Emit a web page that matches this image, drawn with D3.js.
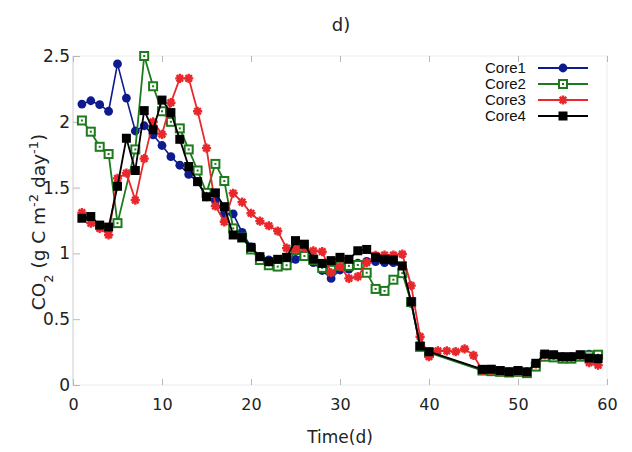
<!DOCTYPE html>
<html>
<head>
<meta charset="UTF-8">
<script src="https://d3js.org/d3.v7.min.js"></script>
<style>
  body { margin: 0; background: #fff; }
  text { font-family: "DejaVu Sans", Verdana, sans-serif; fill: #222; }
  .legend text { font-family: "Liberation Sans", Arial, sans-serif; fill: #111; }
  .axis path { display: none; }
  .axis line { stroke: #b8b8b8; }
</style>
</head>
<body>
<svg id="chart" width="632" height="452"></svg>
<script>
// days of incubation
const days = [1,2,3,4,5,6,7,8,9,10,11,12,13,14,15,16,17,18,19,20,
              21,22,23,24,25,26,27,28,29,30,31,32,33,34,35,36,37,38,39,40,
              41,42,43,44,45,46,47,48,49,50,51,52,53,54,55,56,57,58,59];

// CO2 flux (g C m-2 day-1), null = no sample
const core1 = [2.135,2.16,2.13,2.08,2.44,2.18,1.93,1.97,1.90,1.82,
               1.735,1.67,1.60,1.545,1.43,1.40,1.30,1.30,1.16,1.05,
               0.975,0.95,0.93,0.905,0.955,1.0,0.93,0.87,0.81,0.874,
               0.88,0.925,0.94,0.937,0.93,0.93,0.89,0.62,0.29,0.25,
               null,null,null,null,null,0.115,0.11,0.105,0.10,0.105,
               0.10,0.16,0.22,0.22,0.215,0.215,0.225,0.235,0.21];
const core2 = [2.01,1.925,1.81,1.755,1.23,null,1.79,2.5,2.27,2.08,
               2.0,1.95,1.79,1.63,1.46,1.68,1.55,1.19,1.12,1.03,
               0.95,0.91,0.90,0.91,1.026,0.98,0.95,0.89,0.875,0.905,
               0.905,0.912,0.853,0.73,0.715,0.80,0.85,0.63,0.29,0.245,
               null,null,null,null,null,0.11,0.105,0.10,0.095,0.10,
               0.09,0.14,0.215,0.21,0.20,0.20,0.215,0.225,0.23];
const core3 = [1.31,1.23,1.19,1.14,1.57,1.61,1.405,1.72,2.0,1.905,
               2.145,2.33,2.33,2.08,1.80,1.36,1.24,1.457,1.39,1.305,
               1.245,1.21,1.17,1.04,1.03,1.04,1.02,1.013,0.853,0.90,
               0.81,0.823,0.93,0.985,0.988,0.988,0.995,0.755,0.367,0.215,
               0.26,0.26,0.253,0.275,0.225,0.11,0.11,0.10,0.10,0.10,
               0.10,0.16,0.23,0.225,0.21,0.21,0.225,0.17,0.15];
const core4 = [1.267,1.28,1.215,1.20,1.51,1.875,1.63,2.085,1.94,2.165,
               2.07,1.867,1.66,1.545,1.43,1.46,1.355,1.14,1.12,1.046,
               0.975,0.937,0.955,0.97,1.097,1.07,0.957,0.924,0.945,0.97,
               0.955,1.02,1.03,0.97,0.955,0.95,0.905,0.633,0.296,0.253,
               null,null,null,null,null,0.119,0.12,0.11,0.10,0.11,
               0.10,0.165,0.235,0.23,0.215,0.215,0.23,0.205,0.20];

const seriesNames = ["Core1", "Core2", "Core3", "Core4"];
const seriesValues = [core1, core2, core3, core4];
const colors = ["#0d1b8e", "#1d7a1d", "#e8282c", "#000000"];

const xTicks = [0, 10, 20, 30, 40, 50, 60];
const yTicks = [0, 0.5, 1, 1.5, 2, 2.5];
const yTickLabels = ["0", "0.5", "1", "1.5", "2", "2.5"];

const svg = d3.select("#chart");
const x = d3.scaleLinear().domain([0, 60]).range([73, 607]);
const y = d3.scaleLinear().domain([0, 2.5]).range([385, 56]);

// frame
svg.append("rect")
  .attr("x", x(0)).attr("y", y(2.5))
  .attr("width", x(60) - x(0)).attr("height", y(0) - y(2.5))
  .attr("fill", "none").attr("stroke", "#ececec");
svg.append("line")
  .attr("x1", x(0)).attr("x2", x(0)).attr("y1", y(0)).attr("y2", y(2.5))
  .attr("stroke", "#d6d6d6");

// axes (ticks point inward)
const gx = svg.append("g").attr("class", "axis")
  .attr("transform", `translate(0,${y(0)})`)
  .call(d3.axisBottom(x).tickValues(xTicks).tickSize(-6).tickPadding(11).tickFormat(d3.format("d")));
gx.selectAll("text").style("font-size", "16px").attr("dy", "0.9em");
gx.selectAll("line").attr("stroke", "#dadada");

svg.append("g").attr("class", "axis")
  .attr("transform", `translate(0,${y(2.5)})`)
  .call(d3.axisTop(x).tickValues(xTicks).tickSize(-6).tickFormat(""))
  .selectAll("line").attr("stroke", "#dadada");

const gy = svg.append("g").attr("class", "axis")
  .attr("transform", `translate(${x(0)},0)`)
  .call(d3.axisLeft(y).tickValues(yTicks).tickSize(-7).tickPadding(3)
    .tickFormat((d, i) => yTickLabels[i]));
gy.selectAll("text").style("font-size", "17px");

// titles
svg.append("text").attr("x", 341).attr("y", 31)
  .attr("text-anchor", "middle").style("font-size", "18px").text("d)");

svg.append("text").attr("x", 340).attr("y", 443)
  .attr("text-anchor", "middle").style("font-size", "17px").text("Time(d)");

const yt = svg.append("text")
  .attr("transform", "translate(45,222) rotate(-90)")
  .attr("text-anchor", "middle").style("font-size", "18.5px");
yt.append("tspan").text("CO");
yt.append("tspan").attr("baseline-shift", "sub").style("font-size", "13px").text("2");
yt.append("tspan").text(" (g C m");
yt.append("tspan").attr("baseline-shift", "super").style("font-size", "13px").text("-2");
yt.append("tspan").text(" day");
yt.append("tspan").attr("baseline-shift", "super").style("font-size", "13px").text("-1");
yt.append("tspan").text(")");

// markers
function drawMarker(g, k, color) {
  if (k === 0) {
    g.append("circle").attr("r", 4.4).attr("fill", color);
  } else if (k === 1) {
    g.append("rect").attr("x", -4).attr("y", -4).attr("width", 8).attr("height", 8)
      .attr("fill", "#fff").attr("stroke", color).attr("stroke-width", 2);
    g.append("rect").attr("x", -1).attr("y", -1).attr("width", 2).attr("height", 2)
      .attr("fill", color);
  } else if (k === 2) {
    const r = 4.6;
    g.append("path")
      .attr("d", [0, 45, 90, 135].map(a => {
        const c = Math.cos(a * Math.PI / 180) * r, s = Math.sin(a * Math.PI / 180) * r;
        return `M${-c},${-s}L${c},${s}`;
      }).join(""))
      .attr("stroke", color).attr("stroke-width", 2.4);
    g.append("circle").attr("r", 2.2).attr("fill", color);
  } else {
    g.append("rect").attr("x", -4.5).attr("y", -4.5).attr("width", 9).attr("height", 9)
      .attr("fill", color);
  }
}

const line = d3.line().x(d => x(d.t)).y(d => y(d.v));

seriesValues.forEach((vals, k) => {
  const pts = days.map((t, i) => ({ t, v: vals[i] })).filter(d => d.v != null);
  const g = svg.append("g");
  g.append("path").datum(pts)
    .attr("d", line)
    .attr("fill", "none")
    .attr("stroke", colors[k])
    .attr("stroke-width", k === 0 ? 1.6 : 1.8);
  g.selectAll("g.m").data(pts).enter().append("g")
    .attr("class", "m")
    .attr("transform", d => `translate(${x(d.t)},${y(d.v)})`)
    .each(function () { drawMarker(d3.select(this), k, colors[k]); });
});

// legend
const legend = svg.append("g").attr("class", "legend");
seriesNames.forEach((name, k) => {
  const ly = 68 + k * 16;
  legend.append("text").attr("x", 485).attr("y", ly).attr("dy", "0.35em")
    .style("font-size", "15px").text(name);
  legend.append("line").attr("x1", 538).attr("x2", 588).attr("y1", ly).attr("y2", ly)
    .attr("stroke", colors[k]).attr("stroke-width", 1.8);
  drawMarker(legend.append("g").attr("transform", `translate(563,${ly})`), k, colors[k]);
});
</script>
</body>
</html>
